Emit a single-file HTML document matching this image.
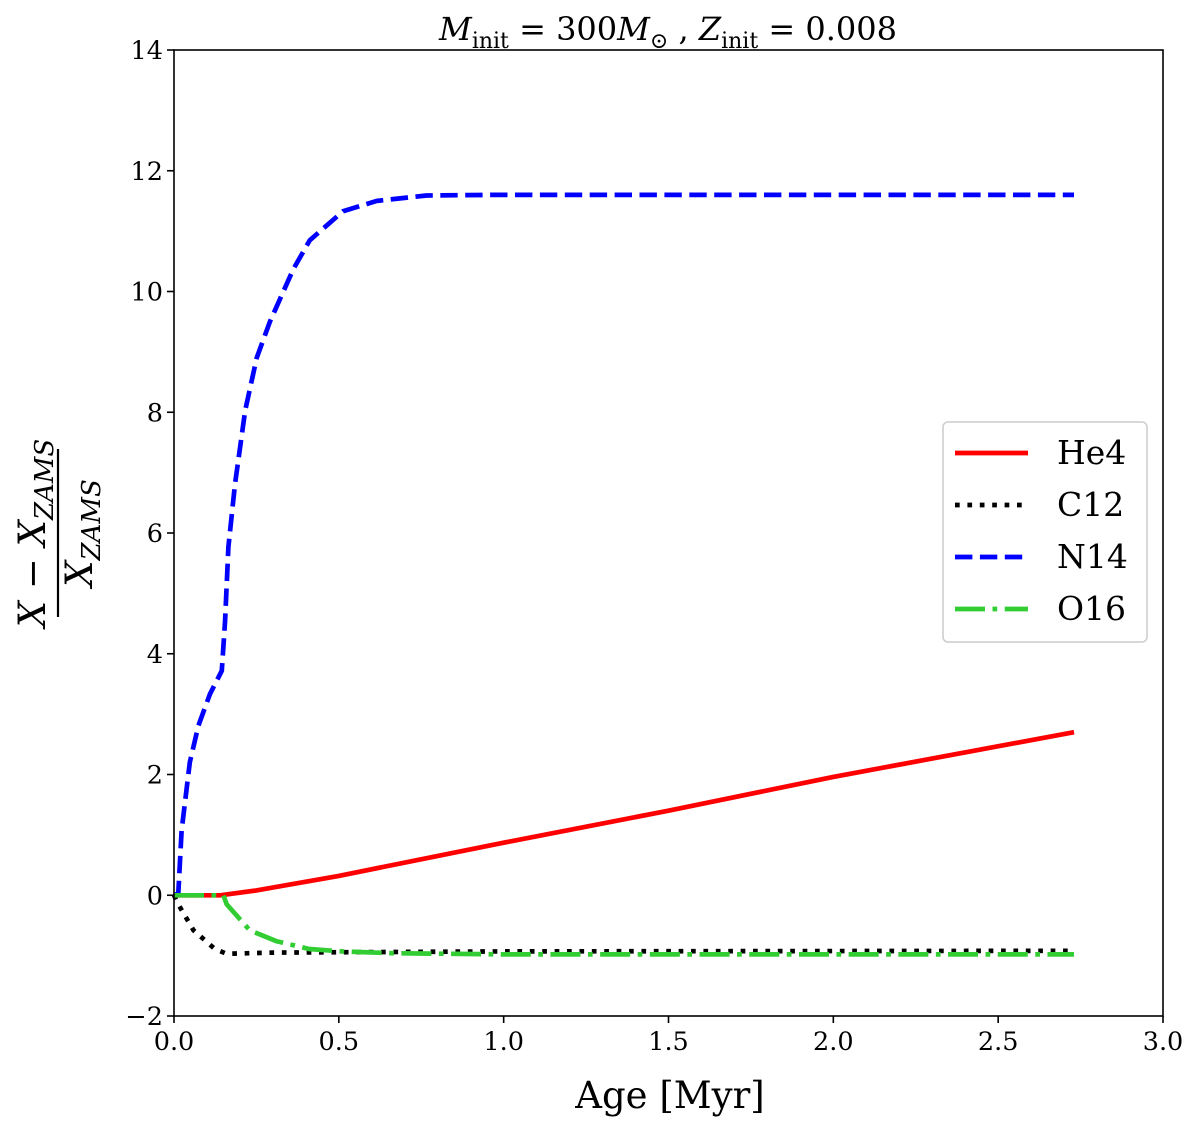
<!DOCTYPE html>
<html><head><meta charset="utf-8"><style>
html,body{margin:0;padding:0;background:#fff;}
svg{display:block;font-family:"DejaVu Serif","Liberation Serif",serif;}
</style></head><body>
<svg id="chart" width="1200" height="1130" viewBox="0 0 1200 1130">
<text x="668" y="40" text-anchor="middle" font-size="32"><tspan font-style="italic">M</tspan><tspan font-size="22" dy="8">init</tspan><tspan dy="-8"> = 300</tspan><tspan font-style="italic">M</tspan><tspan font-size="22" dy="8">⊙</tspan><tspan dy="-8"> , </tspan><tspan font-style="italic">Z</tspan><tspan font-size="22" dy="8">init</tspan><tspan dy="-8"> = 0.008</tspan></text>
<g id="plot"></g>
<g id="axes"></g>
<text x="670" y="1108" text-anchor="middle" font-size="37">Age [Myr]</text>
<g transform="translate(58,533) rotate(-90)">
<text x="0" y="-13" text-anchor="middle" font-size="37" font-style="italic">X <tspan font-style="normal">−</tspan> X<tspan font-size="26" dy="8">ZAMS</tspan></text>
<line x1="-84" y1="0" x2="84" y2="0" stroke="#000" stroke-width="2.2"/>
<text x="0" y="34" text-anchor="middle" font-size="37" font-style="italic">X<tspan font-size="26" dy="8">ZAMS</tspan></text>
</g>
<g id="legend">
<rect x="943" y="422" width="204" height="220" rx="5" fill="#fff" stroke="#ccc" stroke-width="1.5"/>
</g>
</svg>
<script>
const xTicks=[0.0,0.5,1.0,1.5,2.0,2.5,3.0];
const yTicks=[-2,0,2,4,6,8,10,12,14];
const xTickLabels=["0.0","0.5","1.0","1.5","2.0","2.5","3.0"];
const yTickLabels=["−2","0","2","4","6","8","10","12","14"];
const heX=[0,0.14,0.25,0.5,1.0,1.5,2.0,2.73];
const heY=[0,0,0.08,0.32,0.87,1.40,1.96,2.70];
const cX=[0,0.013,0.059,0.124,0.16,0.3,1.0,2.73];
const cY=[0,-0.15,-0.58,-0.89,-0.97,-0.95,-0.93,-0.92];
const nX=[0,0.013,0.023,0.048,0.074,0.109,0.145,0.155,0.165,0.185,0.216,0.251,0.291,0.362,0.412,0.513,0.615,0.766,0.96,2.73];
const nY=[0,0.03,1.07,2.2,2.81,3.33,3.72,4.55,5.77,6.81,8.03,8.9,9.5,10.37,10.85,11.33,11.5,11.59,11.6,11.6];
const oX=[0,0.15,0.16,0.23,0.31,0.41,0.51,0.66,1.0,2.73];
const oY=[0,0,-0.15,-0.58,-0.76,-0.89,-0.93,-0.96,-0.98,-0.98];
const L=174,R=1163,T=50,B=1016;
const sx=v=>L+(v-0)/3*(R-L);
const sy=v=>B-(v+2)/16*(B-T);
const NS="http://www.w3.org/2000/svg";
const plot=document.getElementById('plot'),axes=document.getElementById('axes'),legend=document.getElementById('legend');
function mk(tag,attrs,parent){const e=document.createElementNS(NS,tag);for(const k in attrs)e.setAttribute(k,attrs[k]);parent.appendChild(e);return e;}
const series=[
 {name:'He4',xs:heX,ys:heY,color:'#ff0000',dash:''},
 {name:'C12',xs:cX,ys:cY,color:'#000000',dash:'4.7 7.7'},
 {name:'N14',xs:nX,ys:nY,color:'#0000ff',dash:'17.4 7.5'},
 {name:'O16',xs:oX,ys:oY,color:'#32cd32',dash:'30 7.5 4.7 7.5'}
];
series.forEach((s,i)=>{
 const d=s.xs.map((x,j)=>(j?'L':'M')+sx(x).toFixed(1)+','+sy(s.ys[j]).toFixed(1)).join(' ');
 const p=mk('path',{d:d,fill:'none',stroke:s.color,'stroke-width':4.7,'stroke-dasharray':s.dash},plot);
 
 
 const ly=453+i*52;
 const ll=mk('line',{x1:955,y1:ly,x2:1028,y2:ly,stroke:s.color,'stroke-width':4.7,'stroke-dasharray':s.dash},legend);
 
 
 const lt=mk('text',{x:1057,y:ly+11,'font-size':33},legend);
 lt.textContent=s.name;
 
 
});
const frame=mk('rect',{x:L,y:T,width:R-L,height:B-T,fill:'none',stroke:'#000','stroke-width':1.6},axes);


xTicks.forEach((v,i)=>{
 const t=mk('line',{x1:sx(v),y1:B,x2:sx(v),y2:B+7,stroke:'#000','stroke-width':1.6},axes);
 
 
 const l=mk('text',{x:sx(v),y:B+34,'text-anchor':'middle','font-size':25.5},axes);
 l.textContent=xTickLabels[i];
 
 
});
yTicks.forEach((v,i)=>{
 const t=mk('line',{x1:L-7,y1:sy(v),x2:L,y2:sy(v),stroke:'#000','stroke-width':1.6},axes);
 
 
 const l=mk('text',{x:L-11,y:sy(v)+9,'text-anchor':'end','font-size':25.5},axes);
 l.textContent=yTickLabels[i];
 
 
});
</script>
</body></html>
